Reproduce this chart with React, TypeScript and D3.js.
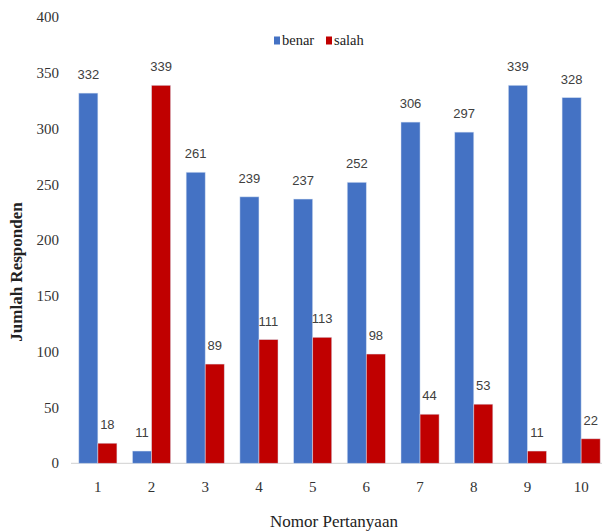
import React from "react";
import * as d3 from "d3";

const categories = ["1", "2", "3", "4", "5", "6", "7", "8", "9", "10"];
const benar = [332, 11, 261, 239, 237, 252, 306, 297, 339, 328];
const salah = [18, 339, 89, 111, 113, 98, 44, 53, 11, 22];
const yTicks = [0, 50, 100, 150, 200, 250, 300, 350, 400];
const seriesNames = ["benar", "salah"];
const seriesColors = ["#4472C4", "#C00000"];

const W = 602;
const H = 532;
const SERIF = "'Liberation Serif', 'Times New Roman', 'DejaVu Serif', serif";
const SANS = "'Liberation Sans', Arial, sans-serif";

export default function App() {
  const x = d3.scaleBand<string>().domain(categories).range([71, 608]).paddingInner(0).paddingOuter(0);
  const y = d3.scaleLinear().domain([0, 400]).range([463.3, 17.3]);
  const bw = x.bandwidth() * 0.355;
  const series = [benar, salah];

  return (
    <svg width={W} height={H} style={{ position: "absolute", left: 0, top: 0, background: "#fff" }}>
      {/* baseline */}
      <line x1={71} x2={W} y1={y(0)} y2={y(0)} stroke="#D9D9D9" strokeWidth={1.2} />

      {/* y tick labels */}
      {yTicks.map((t) => (
        <text key={t} x={59} y={y(t) + 5} textAnchor="end" style={{ fontFamily: SERIF }} fontSize={15} fill="#333">
          {t}
        </text>
      ))}

      {/* bars */}
      {series.map((vals, si) =>
        categories.map((c, i) => {
          const cx = (x(c) as number) + x.bandwidth() / 2;
          const bx = si === 0 ? cx - bw : cx;
          return (
            <g key={`${si}-${c}`}>
              <rect x={bx} y={y(vals[i])} width={bw} height={y(0) - y(vals[i])} fill={seriesColors[si]} stroke="#DCE6F5" strokeOpacity={0.6} strokeWidth={0.8} />
              <text x={bx + bw / 2} y={y(vals[i]) - 14} textAnchor="middle" style={{ fontFamily: SANS }} fontSize={13} fill="#404040">
                {vals[i]}
              </text>
            </g>
          );
        })
      )}

      {/* x tick labels */}
      {categories.map((c) => (
        <text key={c} x={(x(c) as number) + x.bandwidth() / 2} y={492} textAnchor="middle" style={{ fontFamily: SERIF }} fontSize={15} fill="#333">
          {c}
        </text>
      ))}

      {/* axis titles */}
      <text x={334} y={527} textAnchor="middle" style={{ fontFamily: SERIF }} fontSize={17} fill="#222">
        Nomor Pertanyaan
      </text>
      <text transform={`translate(22,272) rotate(-90)`} textAnchor="middle" style={{ fontFamily: SERIF }} fontSize={17} fontWeight="bold" fill="#222">
        Jumlah Responden
      </text>

      {/* legend */}
      {seriesNames.map((n, i) => {
        const lx = i === 0 ? 274 : 326;
        return (
          <g key={n}>
            <rect x={lx} y={36.5} width={6} height={8} fill={seriesColors[i]} />
            <text x={lx + 8} y={45} style={{ fontFamily: SERIF }} fontSize={14.5} fill="#222">
              {n}
            </text>
          </g>
        );
      })}
    </svg>
  );
}
